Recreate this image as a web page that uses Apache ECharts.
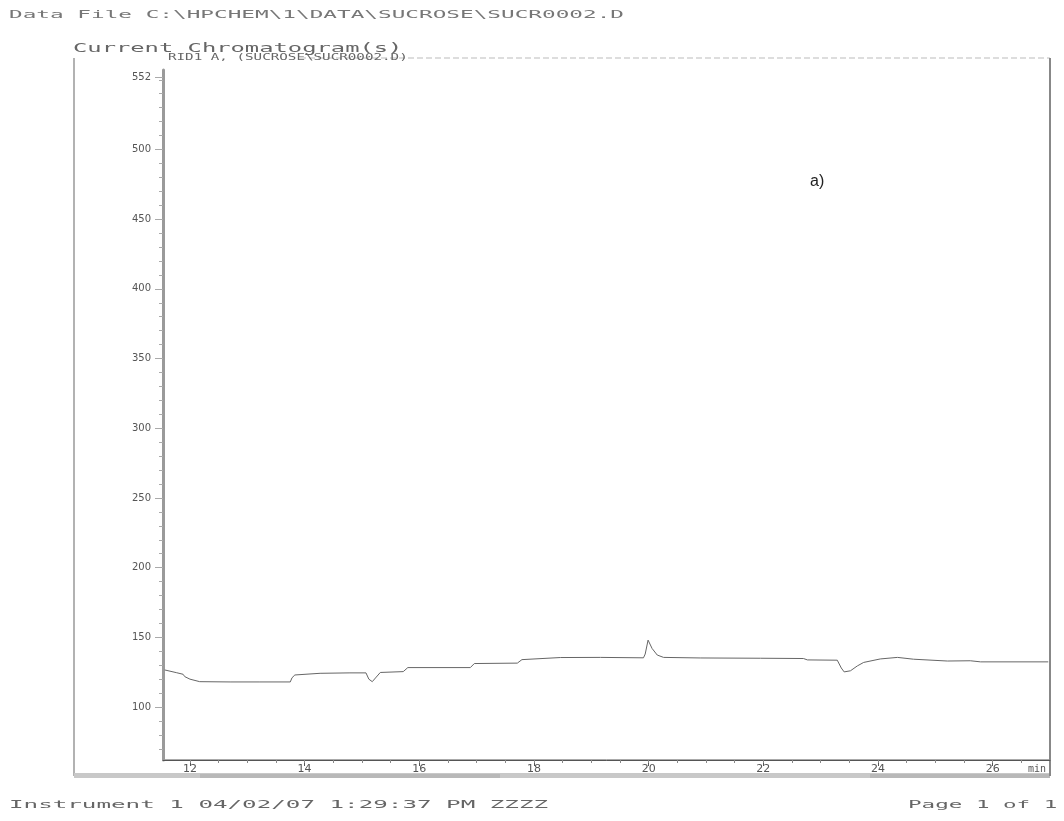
<!DOCTYPE html>
<html><head><meta charset="utf-8">
<script src="https://cdn.jsdelivr.net/npm/echarts@6/dist/echarts.min.js"></script>
<style>html,body{margin:0;padding:0;background:#fff}#c{width:1064px;height:821px}</style>
</head><body><div id="c"></div>
<script>
// Retention time (min)
const timeMin = [11.56,11.77,11.88,11.91,12.00,12.17,12.70,13.22,13.75,13.78,13.83,14.27,14.79,15.07,15.12,15.18,15.25,15.32,15.72,15.80,16.89,16.96,17.71,17.79,18.46,19.16,19.91,19.94,19.99,20.06,20.15,20.26,20.90,21.95,22.70,22.77,23.29,23.36,23.41,23.52,23.64,23.75,24.04,24.34,24.62,25.21,25.61,25.79,26.97];
// Detector response
const signal = [126.6,124.6,123.5,121.8,120.0,118.2,118.0,118.0,118.0,121.0,123.0,124.2,124.5,124.5,120.0,118.2,121.5,124.8,125.4,128.3,128.3,131.2,131.5,134.0,135.5,135.6,135.3,138.0,148.0,142.0,137.3,135.6,135.2,135.0,134.8,133.8,133.6,128.0,125.2,126.0,129.5,132.0,134.5,135.6,134.3,133.0,133.2,132.4,132.4];
const xTickLabels = [12,14,16,18,20,22,24,26];
const xMinorTicks = [11.5,12,12.5,13,13.5,14,14.5,15,15.5,16,16.5,17,17.5,18,18.5,19,19.5,20,20.5,21,21.5,22,22.5,23,23.5,24,24.5,25,25.5,26,26.5];
const yTickLabels = [100,150,200,250,300,350,400,450,500,552];
const yMinorTicks = [70,80,90,100,110,120,130,140,150,160,170,180,190,200,210,220,230,240,250,260,270,280,290,300,310,320,330,340,350,360,370,380,390,400,410,420,430,440,450,460,470,480,490,500,510,520,530,540,550];
const headerText = 'Data File C:\\HPCHEM\\1\\DATA\\SUCROSE\\SUCR0002.D';
const titleText = 'Current Chromatogram(s)';
const signalText = 'RID1 A, (SUCROSE\\SUCR0002.D)';
const footerLeft = 'Instrument 1 04/02/07 1:29:37 PM ZZZZ';
const footerRight = 'Page 1 of 1';
const panelLabel = 'a)';

const chart = echarts.init(document.getElementById('c'), null, {renderer:'canvas'});
const X0 = 11.53, X1 = 27.0, Y0 = 62, Y1 = 557;
const txt = '#555';
const mono = 'DejaVu Sans Mono';
chart.setOption({
  animation:false,
  backgroundColor:'#fff',
  grid:{left:163,right:14,top:70,bottom:61,containLabel:false},
  xAxis:[
    {type:'value',min:X0,max:X1,
     axisLine:{show:true,lineStyle:{color:'#555',width:1}},
     axisTick:{show:true,inside:false,length:6,customValues:xTickLabels,lineStyle:{color:'#555'}},
     axisLabel:{show:true,customValues:xTickLabels,margin:4,fontSize:11,color:txt,fontFamily:'DejaVu Sans'},
     splitLine:{show:false}},
    {type:'value',min:X0,max:X1,position:'bottom',
     axisLine:{show:false},
     axisTick:{show:true,inside:false,length:3,customValues:xMinorTicks,lineStyle:{color:'#888'}},
     axisLabel:{show:false},splitLine:{show:false}}
  ],
  yAxis:[
    {type:'value',min:Y0,max:Y1,
     axisLine:{show:true,lineStyle:{color:'#9a9a9a',width:3}},
     axisTick:{show:true,length:8,customValues:yTickLabels,lineStyle:{color:'#aaa'}},
     axisLabel:{show:true,customValues:yTickLabels,margin:12,fontSize:10,color:txt,fontFamily:'DejaVu Sans'},
     splitLine:{show:false}},
    {type:'value',min:Y0,max:Y1,position:'left',
     axisLine:{show:false},
     axisTick:{show:true,length:4,customValues:yMinorTicks,lineStyle:{color:'#aaa'}},
     axisLabel:{show:false},splitLine:{show:false}}
  ],
  series:[{
    type:'line',xAxisIndex:0,yAxisIndex:0,
    data:timeMin.map((t,i)=>[t,signal[i]]),
    showSymbol:false,symbol:'none',
    lineStyle:{color:'#666',width:1},
    z:3
  }],
  graphic:[
    {type:'line',shape:{x1:74,y1:58,x2:74,y2:776},style:{stroke:'#999',lineWidth:1.5},z:-1},
    {type:'line',shape:{x1:300,y1:58,x2:1050,y2:58},style:{stroke:'#bbb',lineWidth:1,lineDash:[6,3]},z:-1},
    {type:'rect',shape:{x:74,y:773,width:976,height:5},style:{fill:'#c8c8c8'},z:-1},
    {type:'rect',shape:{x:200,y:774,width:300,height:4},style:{fill:'#b8b8b8'},z:-1},
    {type:'rect',shape:{x:870,y:774,width:180,height:4},style:{fill:'#b8b8b8'},z:-1},
    {type:'line',shape:{x1:163,y1:760,x2:1050,y2:760},style:{stroke:'#555',lineWidth:1}},
    {type:'line',shape:{x1:1050,y1:58,x2:1050,y2:776},style:{stroke:'#888',lineWidth:2}},
    {type:'text',x:9,y:10,scaleX:2.27,style:{text:headerText,fontSize:10,fill:'#777',fontFamily:mono}},
    {type:'text',x:73,y:42,scaleX:1.83,style:{text:titleText,fontSize:13,fill:'#666',fontFamily:mono},z:1},
    {type:'text',x:168,y:53,scaleX:1.58,style:{text:signalText,fontSize:9,fill:'#666',fontFamily:mono},z:1},
    {type:'text',x:810,y:174,style:{text:panelLabel,fontSize:16,fill:'#222',fontFamily:'Liberation Sans'}},
    {type:'text',x:1028,y:764,style:{text:'min',fontSize:10,fill:'#555',fontFamily:mono}},
    {type:'text',x:9,y:800,scaleX:2.2,style:{text:footerLeft,fontSize:11,fill:'#666',fontFamily:mono}},
    {type:'text',x:908,y:800,scaleX:2.05,style:{text:footerRight,fontSize:11,fill:'#666',fontFamily:mono}}
  ]
});
</script></body></html>
